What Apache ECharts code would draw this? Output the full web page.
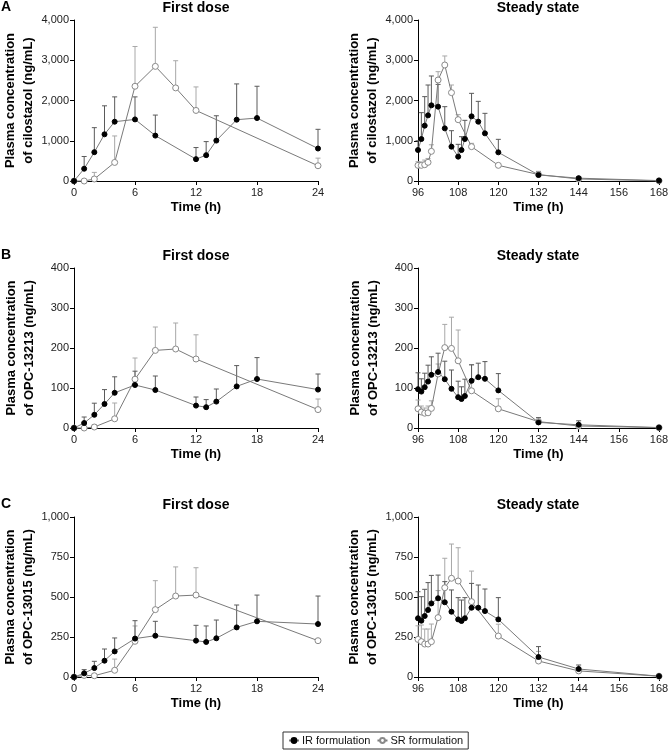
<!DOCTYPE html>
<html>
<head>
<meta charset="utf-8">
<script src="https://cdn.jsdelivr.net/npm/echarts@6/dist/echarts.min.js"></script>
<style>
  html, body { margin: 0; padding: 0; background: #fff; }
  #container { width: 668px; height: 752px; }
</style>
</head>
<body>
<div id="container"></div>
<script>
// sampling times (h)
var firstTimesIR = [0, 1, 2, 3, 4, 6, 8, 12, 13, 14, 16, 18, 24];
var firstTimesSR = [0, 1, 2, 4, 6, 8, 10, 12, 24];
var steadyTimesIR = [96, 97, 98, 99, 100, 102, 104, 106, 108, 109, 110, 112, 114, 116, 120, 132, 144, 168];
var steadyTimesSR = [96, 97, 98, 99, 100, 102, 104, 106, 108, 112, 120, 132, 144, 168];

// cilostazol (ng/mL): mean and upper end of error bar
var cilFirstIR = [0, 305, 716, 1160, 1473, 1530, 1128, 543, 642, 1004, 1523, 1564, 807];
var cilFirstIRUpper = [0, 609, 1325, 1868, 2090, 2090, 1638, 831, 979, 1621, 2412, 2354, 1284];
var cilFirstSR = [0, 0, 50, 461, 2354, 2848, 2313, 1753, 379];
var cilFirstSRUpper = [0, 0, 214, 1119, 3342, 3819, 2988, 2337, 568];
var cilSteadyIR = [770, 1043, 1375, 1631, 1880, 1847, 1308, 853, 605, 770, 1043, 1606, 1474, 1184, 712, 150, 70, 10];
var cilSteadyIRUpper = [1000, 1698, 2096, 2385, 2609, 2400, 1847, 1250, 911, 1101, 1507, 2178, 1979, 1681, 1035, 220, 110, 10];
var cilSteadySR = [389, 389, 405, 464, 737, 2509, 2882, 2195, 1524, 853, 389, 160, 50, 5];
var cilSteadySRUpper = [480, 470, 520, 560, 900, 2716, 3106, 2385, 1648, 936, 420, 240, 90, 5];

// OPC-13213 (ng/mL)
var opc213FirstIR = [0, 12.5, 33, 60, 88, 107.5, 95, 56, 52, 66, 104, 122.5, 96];
var opc213FirstIRUpper = [0, 27.5, 62, 96, 128, 142, 130, 77.5, 71, 97.5, 156, 176, 135];
var opc213FirstSR = [0, 0, 2.5, 23, 122, 194, 197.5, 172.5, 46];
var opc213FirstSRUpper = [0, 0, 8, 62.5, 175, 252.5, 262.5, 233, 72.5];
var opc213SteadyIR = [97, 91, 102, 116, 133, 140, 122, 98, 77, 72.5, 80, 118, 127, 123, 94, 14, 8, 1];
var opc213SteadyIRUpper = [138, 123, 137, 157, 178, 187, 167, 145, 117, 103, 122, 158, 162, 166, 136, 26, 18, 1];
var opc213SteadySR = [48, 40, 37, 38, 49, 135, 201, 199, 168, 93, 48, 16, 5, 1];
var opc213SteadySRUpper = [70, 55, 50, 55, 68, 160, 259, 277, 245, 158, 73, 22, 12, 1];

// OPC-13015 (ng/mL)
var opc015FirstIR = [0, 23, 56, 102, 160, 240, 258, 227, 219, 242, 310, 348, 331];
var opc015FirstIRUpper = [0, 46, 98, 175, 244, 352, 348, 323, 319, 356, 450, 512, 506];
var opc015FirstSR = [0, 10, 8, 42, 223, 421, 506, 512, 227];
var opc015FirstSRUpper = [0, 10, 20, 112, 319, 602, 688, 683, 227];
var opc015SteadyIR = [367, 352, 381, 419, 460, 492, 467, 408, 360, 350, 367, 433, 433, 412, 360, 125, 50, 5];
var opc015SteadyIRUpper = [533, 502, 548, 590, 635, 637, 596, 544, 496, 481, 496, 585, 575, 550, 496, 190, 75, 5];
var opc015SteadySR = [235, 221, 206, 206, 221, 371, 558, 617, 600, 471, 256, 100, 38, 5];
var opc015SteadySRUpper = [320, 325, 300, 300, 331, 540, 742, 831, 808, 662, 330, 160, 60, 5];

var yNames = ['Plasma concentration\nof cilostazol (ng/mL)',
              'Plasma concentration\nof OPC-13213 (ng/mL)',
              'Plasma concentration\nof OPC-13015 (ng/mL)'];
var yMax = [4000, 400, 1000];
var yStep = [1000, 100, 250];
var rowTop = [20, 268, 517];
var rowHeight = [161, 160, 160];
var panelLetters = ['A', 'B', 'C'];

var FONT = 'Liberation Sans, Arial, Helvetica, sans-serif';

var panels = [
    [cilFirstIR, cilFirstIRUpper, cilFirstSR, cilFirstSRUpper, cilSteadyIR, cilSteadyIRUpper, cilSteadySR, cilSteadySRUpper],
    [opc213FirstIR, opc213FirstIRUpper, opc213FirstSR, opc213FirstSRUpper, opc213SteadyIR, opc213SteadyIRUpper, opc213SteadySR, opc213SteadySRUpper],
    [opc015FirstIR, opc015FirstIRUpper, opc015FirstSR, opc015FirstSRUpper, opc015SteadyIR, opc015SteadyIRUpper, opc015SteadySR, opc015SteadySRUpper]
];

function pairs(times, vals) {
    var out = [];
    for (var i = 0; i < times.length; i++) {
        out.push([times[i], vals[i]]);
    }
    return out;
}

function errorBars(times, mean, upper, idx, color) {
    var data = [];
    for (var i = 0; i < times.length; i++) {
        data.push([times[i], mean[i], upper[i]]);
    }
    return {
        type: 'custom',
        name: 'err' + idx + color,
        xAxisIndex: idx,
        yAxisIndex: idx,
        silent: true,
        z: 1,
        data: data,
        renderItem: function (params, api) {
            var p0 = api.coord([api.value(0), api.value(1)]);
            var p1 = api.coord([api.value(0), api.value(2)]);
            if (p0[1] - p1[1] < 1) {
                return {type: 'group', children: []};
            }
            return {
                type: 'group',
                children: [
                    {type: 'line', shape: {x1: p0[0], y1: p0[1], x2: p1[0], y2: p1[1]},
                        style: {stroke: color, lineWidth: 1}},
                    {type: 'line', shape: {x1: p1[0] - 2.5, y1: p1[1], x2: p1[0] + 2.5, y2: p1[1]},
                        style: {stroke: color, lineWidth: 1}}
                ]
            };
        }
    };
}

function lineSeries(name, times, vals, idx) {
    var isIR = name.indexOf('IR') === 0;
    return {
        type: 'line',
        name: name,
        xAxisIndex: idx,
        yAxisIndex: idx,
        data: pairs(times, vals),
        z: 3,
        symbol: 'circle',
        symbolSize: isIR ? 5 : 6,
        showAllSymbol: true,
        clip: false,
        lineStyle: {color: '#7a7a7a', width: 1},
        itemStyle: isIR ? {color: '#000', borderColor: '#000', borderWidth: 1}
                        : {color: '#fff', borderColor: '#8a8a8a', borderWidth: 1},
        emphasis: {disabled: true}
    };
}

var grids = [], xAxes = [], yAxes = [], series = [], titles = [];

for (var r = 0; r < 3; r++) {
    for (var c = 0; c < 2; c++) {
        var idx = r * 2 + c;
        var left = c === 0 ? 74 : 418;
        var width = c === 0 ? 244 : 241;
        grids.push({left: left, top: rowTop[r], width: width, height: rowHeight[r], outerBoundsMode: 'none'});

        xAxes.push({
            type: 'value', gridIndex: idx,
            min: c === 0 ? 0 : 96, max: c === 0 ? 24 : 168, interval: c === 0 ? 6 : 12,
            name: 'Time (h)', nameLocation: 'middle', nameGap: 20,
            nameTextStyle: {fontFamily: FONT, fontSize: 13, fontWeight: 'bold', color: '#000'},
            axisLine: {onZero: false, lineStyle: {color: '#000', width: 1}},
            axisTick: {show: true, length: 4, lineStyle: {color: '#000'}},
            axisLabel: {fontFamily: FONT, fontSize: 11, color: '#222', margin: 6},
            splitLine: {show: false}
        });

        yAxes.push({
            type: 'value', gridIndex: idx,
            min: 0, max: yMax[r], interval: yStep[r],
            name: yNames[r], nameLocation: 'middle', nameRotate: 90, nameGap: 36,
            nameTextStyle: {fontFamily: FONT, fontSize: 13, fontWeight: 'bold', color: '#000', lineHeight: 18},
            axisLine: {show: true, lineStyle: {color: '#000', width: 1}},
            axisTick: {show: true, length: 4, lineStyle: {color: '#000'}},
            axisLabel: {
                fontFamily: FONT, fontSize: 11, color: '#222', margin: 5,
                formatter: function (v) { return v.toLocaleString('en-US'); }
            },
            splitLine: {show: false}
        });

        var d = panels[r];
        var tIR = c === 0 ? firstTimesIR : steadyTimesIR;
        var tSR = c === 0 ? firstTimesSR : steadyTimesSR;
        var o = c * 4;
        series.push(errorBars(tSR, d[o + 2], d[o + 3], idx, '#a8a8a8'));
        series.push(errorBars(tIR, d[o], d[o + 1], idx, '#5a5a5a'));
        series.push(lineSeries('SR formulation', tSR, d[o + 2], idx));
        series.push(lineSeries('IR formulation', tIR, d[o], idx));

        titles.push({
            text: c === 0 ? 'First dose' : 'Steady state',
            left: c === 0 ? 196 : 538, top: rowTop[r] - 19, textAlign: 'center', padding: 0,
            textStyle: {fontFamily: FONT, fontSize: 14, fontWeight: 'bold', color: '#000'}
        });
    }
    titles.push({
        text: panelLetters[r], left: 1, top: rowTop[r] - 20, padding: 0,
        textStyle: {fontFamily: FONT, fontSize: 14, fontWeight: 'bold', color: '#000'}
    });
}

var myChart = echarts.init(document.getElementById('container'), null, {renderer: 'canvas'});
var option = {
    animation: false,
    backgroundColor: '#fff',
    title: titles,
    legend: {
        data: ['IR formulation', 'SR formulation'],
        left: 283, top: 732,
        padding: [3, 5],
        itemGap: 6, itemWidth: 10, itemHeight: 6,
        borderColor: '#333', borderWidth: 1,
        selectedMode: false,
        textStyle: {fontFamily: FONT, fontSize: 11, color: '#111', padding: [0, 0, 0, -2]}
    },
    grid: grids,
    xAxis: xAxes,
    yAxis: yAxes,
    series: series
};

myChart.setOption(option);
</script>
</body>
</html>
